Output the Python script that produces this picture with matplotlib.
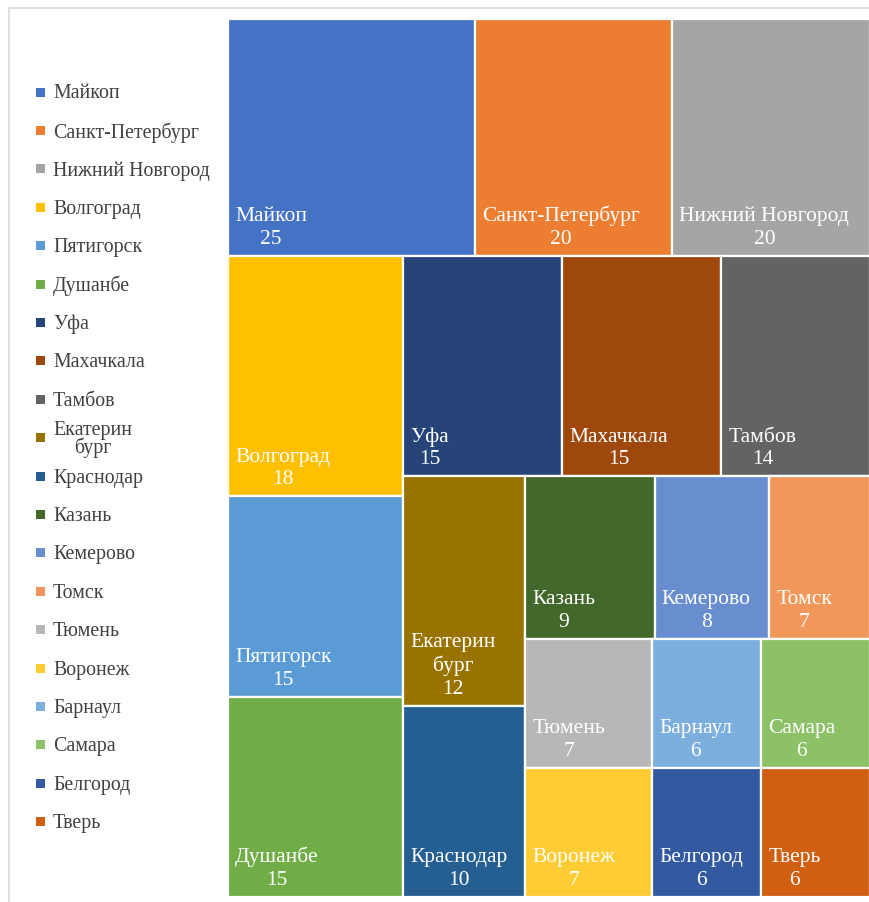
import math
import matplotlib.pyplot as plt
from matplotlib.patches import Rectangle

# data (legend order = descending values)
names = ["Майкоп", "Санкт-Петербург", "Нижний Новгород", "Волгоград", "Пятигорск",
         "Душанбе", "Уфа", "Махачкала", "Тамбов", "Екатерин\nбург", "Краснодар",
         "Казань", "Кемерово", "Томск", "Тюмень", "Воронеж", "Барнаул", "Самара",
         "Белгород", "Тверь"]
values = [25, 20, 20, 18, 15, 15, 15, 15, 14, 12, 10, 9, 8, 7, 7, 7, 6, 6, 6, 6]
colors = ["#4472C4", "#ED7D31", "#A5A5A5", "#FFC000", "#5B9BD5", "#70AD47",
          "#264478", "#9E480E", "#636363", "#997300", "#255E91", "#43682B",
          "#698ED0", "#F1975A", "#B7B7B7", "#FFCD33", "#7CAFDD", "#8CC168",
          "#335AA1", "#D05F12"]

FONT = "Liberation Serif"
TARGET = 1.3  # preferred tile height/width, like Excel seems to use


# squarified treemap layout (y grows downward)
def layout_row(sizes, x, y, dx, dy):
    h = sum(sizes) / dx
    rects = []
    for s in sizes:
        w = s / h
        rects.append((x, y, w, h))
        x += w
    return rects


def layout_col(sizes, x, y, dx, dy):
    w = sum(sizes) / dy
    rects = []
    for s in sizes:
        h = s / w
        rects.append((x, y, w, h))
        y += h
    return rects


def layout(sizes, x, y, dx, dy):
    if dx >= dy:
        return layout_col(sizes, x, y, dx, dy)
    return layout_row(sizes, x, y, dx, dy)


def leftover(sizes, x, y, dx, dy):
    if dx >= dy:
        w = sum(sizes) / dy
        return x + w, y, dx - w, dy
    h = sum(sizes) / dx
    return x, y + h, dx, dy - h


def worst(sizes, x, y, dx, dy):
    return max(abs(math.log(r[3] / r[2] / TARGET)) for r in layout(sizes, x, y, dx, dy))


def squarify(sizes, x, y, dx, dy):
    if len(sizes) == 0:
        return []
    if len(sizes) == 1:
        return layout(sizes, x, y, dx, dy)
    i = 1
    while i < len(sizes) and worst(sizes[:i], x, y, dx, dy) >= worst(sizes[:i + 1], x, y, dx, dy):
        i += 1
    cur, rest = sizes[:i], sizes[i:]
    return layout(cur, x, y, dx, dy) + squarify(rest, *leftover(cur, x, y, dx, dy))


fig = plt.figure(figsize=(8.7, 9.02), dpi=100)
ax = fig.add_axes([0, 0, 1, 1])
ax.set_xlim(0, 870)
ax.set_ylim(902, 0)
ax.axis("off")

# chart frame
ax.plot([9, 9, 870], [902, 8, 8], color="#D9D9D9", lw=1.2)

bx, by, bw, bh = 228, 19, 642, 878
total = sum(values)
areas = [v / total * bw * bh for v in values]
rects = squarify(areas, bx, by, bw, bh)

for (x, y, w, h), name, v, c in zip(rects, names, values, colors):
    ax.add_patch(Rectangle((x, y), w, h, facecolor=c, edgecolor="white", lw=1.6))
    ax.text(x + 7, y + h - 7, f"{name}\n{v}", ha="left", va="bottom",
            multialignment="center", color="white", fontsize=15.5,
            family=FONT, linespacing=1.26)

# legend
ly0, lstep = 94, 38.4
for i, (name, c) in enumerate(zip(names, colors)):
    yy = ly0 + i * lstep
    ax.add_patch(Rectangle((36, yy - 6.5), 9, 9, facecolor=c, edgecolor="none"))
    ax.text(53, yy, name, ha="left", va="center", multialignment="center",
            color="#404040", fontsize=14.3, family=FONT, linespacing=0.85)

fig.savefig("out.png", dpi=100)
